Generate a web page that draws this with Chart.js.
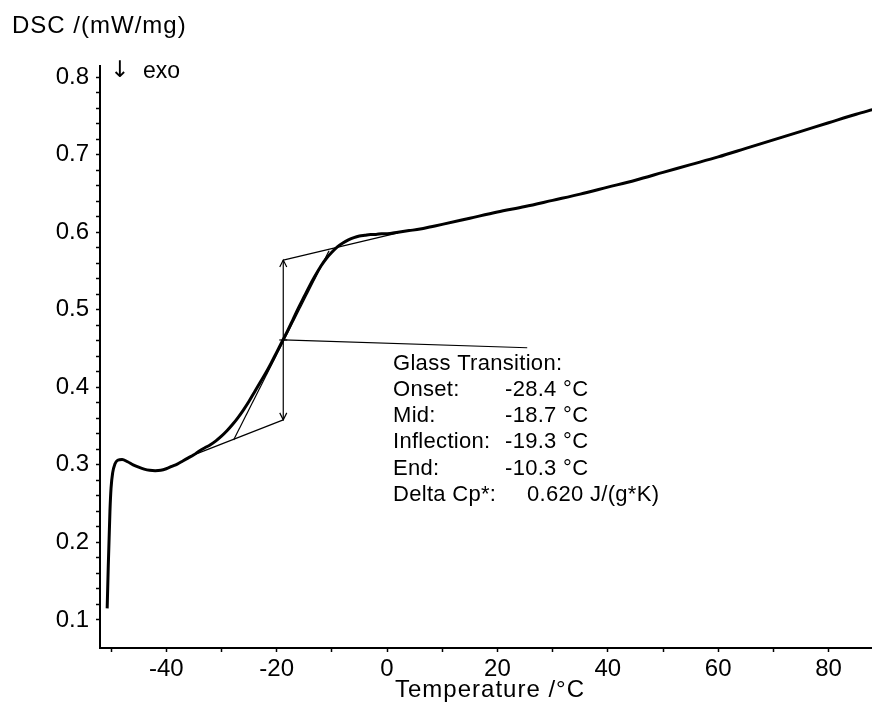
<!DOCTYPE html>
<html>
<head>
<meta charset="utf-8">
<script src="https://cdn.jsdelivr.net/npm/chart.js@4.4.1/dist/chart.umd.min.js"></script>
<style>
  html, body { margin: 0; padding: 0; background: #fff; }
  #wrap { width: 872px; height: 710px; }
</style>
</head>
<body>
<div id="wrap"><canvas id="dsc" width="872" height="710"></canvas></div>
<script>
const temps = [-50.7, -50.5, -50.2, -50.0, -49.7, -49.3, -48.8, -48.0, -47, -46, -45, -44, -43, -42, -41, -40, -39, -38, -37,
  -36, -35, -34, -33, -32, -31, -30, -29, -28, -27, -26, -25, -24, -23, -22, -21, -20, -19, -18, -17, -16, -15, -14, -13,
  -12, -11, -10, -9, -8, -7, -6, -5, -4, -3, -2, -1, 0, 2, 4, 6, 8, 10, 15, 20, 25, 30, 35, 40, 45, 50, 55, 60, 65, 70, 75, 80, 85, 88];
const dsc = [0.115, 0.17, 0.24, 0.27, 0.29, 0.301, 0.306, 0.307, 0.304, 0.300, 0.297, 0.2945, 0.293, 0.2925, 0.293, 0.295, 0.298, 0.301, 0.305,
  0.309, 0.313, 0.318, 0.322, 0.326, 0.331, 0.337, 0.344, 0.352, 0.361, 0.371, 0.382, 0.394, 0.406, 0.418, 0.431, 0.445, 0.459, 0.473, 0.488, 0.503, 0.517, 0.531, 0.544,
  0.556, 0.566, 0.574, 0.581, 0.586, 0.590, 0.593, 0.595, 0.596, 0.597, 0.597, 0.598, 0.598, 0.600, 0.602, 0.604, 0.607, 0.610, 0.618, 0.626, 0.633, 0.641, 0.649, 0.658, 0.667, 0.677, 0.687, 0.697, 0.708, 0.719, 0.730, 0.741, 0.752, 0.758];

// glass transition evaluation lines
const lowBaseT = [-35.7, -18.8];
const lowBaseV = [0.311, 0.358];
const highBaseT = [-18.8, 2.0];
const highBaseV = [0.564, 0.599];
const onsetT = [-27.8, -10.5];
const onsetV = [0.332, 0.576];
const stepT = [-18.8, -18.8];
const stepV = [0.358, 0.564];
const leaderT = [-18.8, 25.4];
const leaderV = [0.461, 0.451];

const gtTitle = "Glass Transition:";
const gtLabels = ["Onset:", "Mid:", "Inflection:", "End:", "Delta Cp*:"];
const gtValues = ["-28.4 °C", "-18.7 °C", "-19.3 °C", "-10.3 °C", "0.620 J/(g*K)"];

const xTicks = [-50, -40, -30, -20, -10, 0, 10, 20, 30, 40, 50, 60, 70, 80];
const yTicks = [];
for (let i = 5; i <= 40; i++) yTicks.push(i / 50);

function pts(t, v) {
  return t.map((x, i) => ({x: x, y: v[i]}));
}
function thin(t, v) {
  return {data: pts(t, v), borderColor: "#000", borderWidth: 1.2, pointRadius: 0, fill: false, tension: 0};
}

const textPlugin = {
  id: "texts",
  afterDraw(chart) {
    const ctx = chart.ctx;
    const xs = chart.scales.x, ys = chart.scales.y;
    ctx.save();
    ctx.fillStyle = "#000";
    ctx.strokeStyle = "#000";
    ctx.textBaseline = "alphabetic";

    // arrow heads on the step line
    ctx.lineWidth = 1.2;
    const ax = xs.getPixelForValue(stepT[0]);
    const aTop = ys.getPixelForValue(stepV[1]);
    const aBot = ys.getPixelForValue(stepV[0]);
    ctx.beginPath();
    ctx.moveTo(ax - 3.5, aTop + 7); ctx.lineTo(ax, aTop); ctx.lineTo(ax + 3.5, aTop + 7);
    ctx.moveTo(ax - 3.5, aBot - 7); ctx.lineTo(ax, aBot); ctx.lineTo(ax + 3.5, aBot - 7);
    ctx.stroke();
    // cross at the inflection point
    const iy = ys.getPixelForValue(leaderV[0]);
    ctx.beginPath();
    ctx.moveTo(ax - 4, iy); ctx.lineTo(ax + 4, iy);
    ctx.stroke();

    // axis titles
    ctx.font = "24px 'Liberation Sans', Arial, sans-serif";
    ctx.letterSpacing = "1px";
    ctx.textAlign = "left";
    ctx.fillText("DSC /(mW/mg)", 12, 33);
    ctx.fillText("Temperature /°C", 395, 697);
    ctx.letterSpacing = "0px";
    ctx.font = "23px 'DejaVu Sans', sans-serif";
    ctx.fillText("↓", 110, 77);
    ctx.font = "23px 'Liberation Sans', Arial, sans-serif";
    ctx.fillText("exo", 143, 78);

    // result box
    ctx.font = "22px 'Liberation Sans', Arial, sans-serif";
    ctx.letterSpacing = "0.3px";
    ctx.fillText(gtTitle, 393, 370);
    gtLabels.forEach((lab, i) => {
      const y = 396 + i * 26.2;
      ctx.fillText(lab, 393, y);
      ctx.fillText(gtValues[i], i === 4 ? 527 : 505, y);
    });
    ctx.restore();
  }
};

new Chart(document.getElementById("dsc"), {
  type: "line",
  data: {
    datasets: [
      {data: pts(temps, dsc), borderColor: "#000", borderWidth: 3, pointRadius: 0, fill: false, cubicInterpolationMode: "monotone"},
      thin(lowBaseT, lowBaseV),
      thin(highBaseT, highBaseV),
      thin(onsetT, onsetV),
      thin(stepT, stepV),
      thin(leaderT, leaderV)
    ]
  },
  options: {
    responsive: false,
    animation: false,
    events: [],
    layout: {padding: {top: 66, right: 0, left: 0, bottom: 0}},
    plugins: {legend: {display: false}, tooltip: {enabled: false}},
    scales: {
      x: {
        type: "linear",
        min: -52,
        max: 87.86,
        afterFit(s) { s.height = 62; },
        afterBuildTicks(s) { s.ticks = xTicks.map(v => ({value: v})); },
        border: {display: true, color: "#000", width: 2},
        grid: {drawOnChartArea: false, tickLength: 4, tickColor: "#000", tickWidth: 1.5},
        ticks: {
          color: "#000",
          padding: 3,
          maxRotation: 0,
          autoSkip: false,
          font: {family: "'Liberation Sans', Arial, sans-serif", size: 24},
          callback: v => (v % 20 === 0 ? String(v) : "")
        }
      },
      y: {
        type: "linear",
        min: 0.0639,
        max: 0.8142,
        afterFit(s) { s.width = 100; },
        afterBuildTicks(s) { s.ticks = yTicks.map(v => ({value: v})); },
        border: {display: true, color: "#000", width: 2},
        grid: {drawOnChartArea: false, tickLength: 4, tickColor: "#000", tickWidth: 1.5},
        ticks: {
          color: "#000",
          padding: 7,
          autoSkip: false,
          font: {family: "'Liberation Sans', Arial, sans-serif", size: 24},
          callback: v => (Math.round(v * 100) % 10 === 0 ? v.toFixed(1) : "")
        }
      }
    }
  },
  plugins: [textPlugin]
});
</script>
</body>
</html>
